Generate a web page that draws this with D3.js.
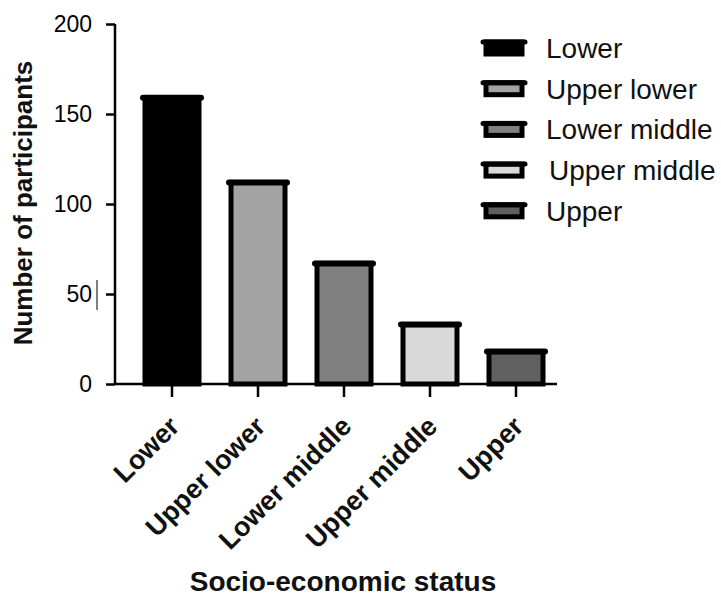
<!DOCTYPE html>
<html><head><meta charset="utf-8">
<script src="https://cdn.jsdelivr.net/npm/d3@7"></script>
<style>body{margin:0;background:#fff}svg{display:block}</style>
</head><body>
<svg id="c" width="721" height="599"></svg>
<script>
const categories = ["Lower","Upper lower","Lower middle","Upper middle","Upper"];
const values = [159, 112, 67, 33, 18];
const colors = ["#000000","#a3a3a3","#808080","#d9d9d9","#606060"];
const yTicks = [0,50,100,150,200];

const svg = d3.select("#c");
const x0 = 115, x1 = 557, yTop = 24, yBot = 384;
const x = d3.scaleBand().domain(categories).range([129, 559]).paddingInner(0.3).paddingOuter(0.15);
const y = d3.scaleLinear().domain([0,200]).range([yBot, yTop]);
const font = "Liberation Sans, Arial, sans-serif";

// bars
const bw = 54;
const g = svg.append("g");
categories.forEach((c,i)=>{
  const cx = x(c) + x.bandwidth()/2;
  g.append("rect").attr("x", cx-bw/2).attr("y", y(values[i]))
    .attr("width", bw).attr("height", yBot - y(values[i]))
    .attr("fill", colors[i]).attr("stroke","#000").attr("stroke-width",5);
  g.append("line").attr("x1", cx-bw/2-2).attr("x2", cx+bw/2+2)
    .attr("y1", y(values[i])).attr("y2", y(values[i]))
    .attr("stroke","#000").attr("stroke-width",6).attr("stroke-linecap","round");
});

// y axis
const ya = svg.append("g").attr("transform",`translate(${x0},0)`)
  .call(d3.axisLeft(y).tickValues(yTicks).tickSize(9).tickPadding(14));
ya.select(".domain").attr("stroke-width",2.5).attr("d",`M-0,${yTop}V${yBot}`);
ya.selectAll(".tick line").attr("stroke-width",2.5);
ya.selectAll("text").attr("font-family",font).attr("font-size",23).attr("fill","#000");
// stray cursor mark next to "50"
svg.append("line").attr("x1",97).attr("x2",97).attr("y1",y(50)-14).attr("y2",y(50)+16).attr("stroke","#000").attr("stroke-width",1);

// x axis
const xa = svg.append("g").attr("transform",`translate(0,${yBot})`)
  .call(d3.axisBottom(x).tickSize(13).tickFormat(""));
xa.select(".domain").attr("stroke-width",2.5).attr("d",`M${x0},0H${x1}`);
xa.selectAll(".tick line").attr("stroke-width",2.5);
categories.forEach(c=>{
  const cx = x(c) + x.bandwidth()/2;
  svg.append("text").attr("transform",`translate(${cx+9},${yBot+44}) rotate(-45)`)
    .attr("text-anchor","end")
    .attr("font-family",font).attr("font-size",27).attr("font-weight","bold").attr("fill","#111")
    .text(c);
});

// axis titles
svg.append("text").attr("transform","translate(32,203) rotate(-90)").attr("text-anchor","middle")
  .attr("font-family",font).attr("font-size",26).attr("font-weight","bold").attr("fill","#111")
  .text("Number of participants");
svg.append("text").attr("x",343).attr("y",591).attr("text-anchor","middle")
  .attr("font-family",font).attr("font-size",28).attr("font-weight","bold").attr("fill","#111")
  .text("Socio-economic status");

// legend
const lg = svg.append("g");
categories.forEach((c,i)=>{
  const cy = 48 + i*40.7;
  lg.append("rect").attr("x",486).attr("y",cy-6).attr("width",36).attr("height",12)
    .attr("fill",colors[i]).attr("stroke","#000").attr("stroke-width",5);
  lg.append("line").attr("x1",483).attr("x2",525).attr("y1",cy-6).attr("y2",cy-6)
    .attr("stroke","#000").attr("stroke-width",5).attr("stroke-linecap","round");
  lg.append("text").attr("x", i===3?549:546).attr("y",cy).attr("dy","0.35em")
    .attr("font-family",font).attr("font-size",28).attr("fill","#111").text(c);
});
</script>
</body></html>
